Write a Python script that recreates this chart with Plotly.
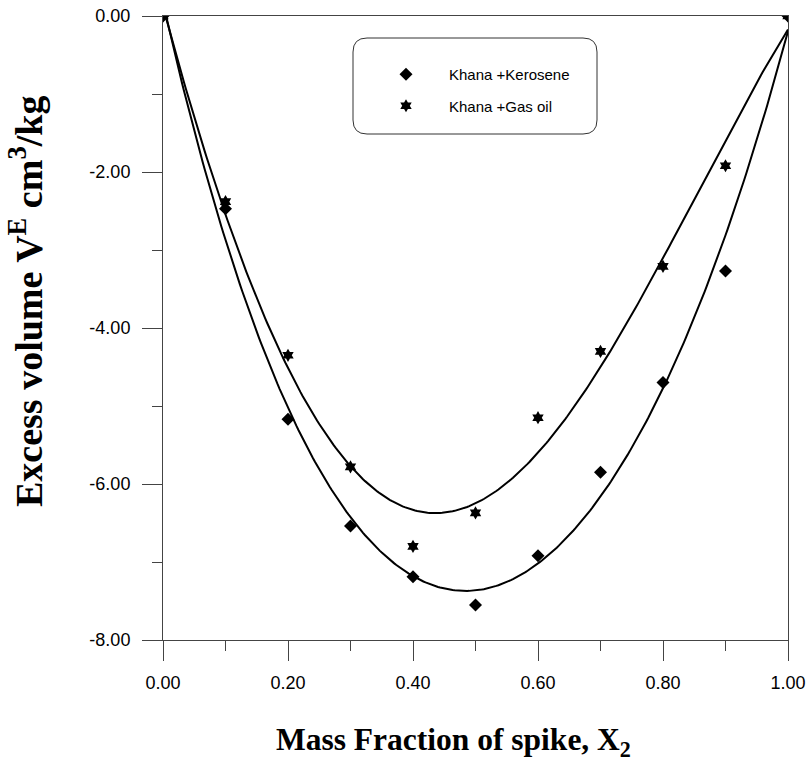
import numpy as np
import plotly.graph_objects as go

# Mass fraction of spike and measured excess volumes (cm3/kg)
x2 = [0.0, 0.1, 0.2, 0.3, 0.4, 0.5, 0.6, 0.7, 0.8, 0.9, 1.0]
ve_kerosene = [0.0, -2.47, -5.17, -6.54, -7.19, -7.55, -6.92, -5.85, -4.70, -3.27, 0.0]
ve_gasoil = [0.0, -2.38, -4.35, -5.78, -6.80, -6.37, -5.15, -4.30, -3.21, -1.92, 0.0]

x_ticks = [0.0, 0.2, 0.4, 0.6, 0.8, 1.0]
x_ticktext = ["0.00", "0.20", "0.40", "0.60", "0.80", "1.00"]
y_ticks = [0, -2, -4, -6, -8]
y_ticktext = ["0.00", "-2.00", "-4.00", "-6.00", "-8.00"]

FIT_DEGREE = 4
SERIF = "Times New Roman, Liberation Serif, serif"
SANS = "Arial, Liberation Sans, sans-serif"

fig = go.Figure()

# smooth 4th-order polynomial regression through each series
xs = np.linspace(0, 1, 301)
for ys in (ve_kerosene, ve_gasoil):
    coef = np.polyfit(x2, ys, FIT_DEGREE)
    fig.add_trace(go.Scatter(x=xs, y=np.polyval(coef, xs), mode="lines",
                             line=dict(color="black", width=2),
                             showlegend=False, hoverinfo="skip"))

fig.add_trace(go.Scatter(x=x2, y=ve_kerosene, mode="markers", name="Khana +Kerosene",
                         legendgroup="k",
                         marker=dict(symbol="diamond", size=10, color="black")))
fig.add_trace(go.Scatter(x=x2, y=ve_gasoil, mode="markers", name="Khana +Gas oil",
                         legendgroup="g",
                         marker=dict(symbol="hexagram", size=10, color="black")))

# plot-area geometry in pixels, used to place paper-referenced decorations
L, R, T, B = 163, 788, 16, 640
W, H = R - L, B - T


def px(xp):
    return (xp - L) / W


def py(yp):
    return (B - yp) / H


# rounded frame around the legend
bx0, bx1, by0, by1, rad = 353, 597, 38, 134, 14
path = (f"M {px(bx0 + rad)} {py(by0)} L {px(bx1 - rad)} {py(by0)} "
        f"Q {px(bx1)} {py(by0)} {px(bx1)} {py(by0 + rad)} "
        f"L {px(bx1)} {py(by1 - rad)} "
        f"Q {px(bx1)} {py(by1)} {px(bx1 - rad)} {py(by1)} "
        f"L {px(bx0 + rad)} {py(by1)} "
        f"Q {px(bx0)} {py(by1)} {px(bx0)} {py(by1 - rad)} "
        f"L {px(bx0)} {py(by0 + rad)} "
        f"Q {px(bx0)} {py(by0)} {px(bx0 + rad)} {py(by0)} Z")
fig.add_shape(type="path", path=path, xref="paper", yref="paper",
              line=dict(color="#333", width=1), fillcolor="rgba(0,0,0,0)")

fig.add_annotation(text="<b>Excess volume V<sup>E</sup> cm<sup>3</sup>/kg</b>",
                   xref="paper", yref="paper", x=px(26), y=py(302),
                   xanchor="center", yanchor="middle",
                   showarrow=False, textangle=-90,
                   font=dict(family=SERIF, size=38, color="black"))
fig.add_annotation(text="<b>Mass Fraction of spike, X<sub>2</sub></b>",
                   xref="paper", yref="paper", x=px(453), y=py(742),
                   xanchor="center", yanchor="middle",
                   showarrow=False,
                   font=dict(family=SERIF, size=31.5, color="black"))

fig.update_layout(
    width=806, height=762,
    margin=dict(l=L, r=806 - R, t=T, b=762 - B, autoexpand=False),
    plot_bgcolor="white", paper_bgcolor="white",
    showlegend=True,
    legend=dict(x=px(363), y=py(58), xanchor="left", yanchor="top",
                bgcolor="rgba(0,0,0,0)", borderwidth=0,
                font=dict(family=SANS, size=15, color="black"),
                tracegroupgap=9, itemwidth=76),
)

axis_common = dict(showgrid=False, zeroline=False, showline=True, mirror=True,
                   linecolor="#444", linewidth=1, ticks="outside", ticklen=20,
                   tickcolor="#444", tickwidth=1, automargin=False,
                   tickfont=dict(family=SANS, size=18, color="black"))
fig.update_xaxes(range=[0, 1], tickvals=x_ticks, ticktext=x_ticktext,
                 ticklabelstandoff=6,
                 minor=dict(ticks="outside", ticklen=10, dtick=0.1,
                            tickcolor="#444", tickwidth=1),
                 **axis_common)
fig.update_yaxes(range=[-8, 0], tickvals=y_ticks, ticktext=y_ticktext,
                 ticklabelstandoff=8,
                 minor=dict(ticks="outside", ticklen=10, dtick=1,
                            tickcolor="#444", tickwidth=1),
                 **axis_common)

fig.write_html("out.html")
